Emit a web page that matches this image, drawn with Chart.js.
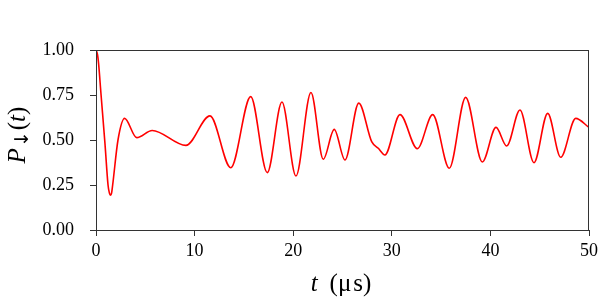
<!DOCTYPE html>
<html>
<head>
<meta charset="utf-8">
<script src="https://cdn.jsdelivr.net/npm/chart.js@4.4.1/dist/chart.umd.min.js"></script>
<style>
  html, body { margin: 0; padding: 0; background: #fff; }
  #wrap { width: 616px; height: 299px; }
</style>
</head>
<body>
<div id="wrap"><canvas id="chart"></canvas></div>
<script>
// values (time in microseconds, probability)
const times = [0, 0.15, 0.27, 0.5, 0.91, 1.22, 1.36, 1.47, 1.58, 1.69, 2.23, 2.9, 4.13, 5.7, 9.12, 11.56, 13.67,
  15.69, 17.37, 18.86, 20.28, 21.8, 23.05, 24.16, 25.25, 26.65, 27.96, 28.63, 29.3,
  30.83, 32.59, 34.15, 35.83, 37.49, 39.18, 40.57, 41.65, 43.0, 44.42, 45.81, 47.13, 48.65, 50];
const probDown = [1.0, 0.975, 0.92, 0.76, 0.48, 0.25, 0.205, 0.194, 0.205, 0.25, 0.5, 0.62, 0.513, 0.553, 0.47, 0.634, 0.346,
  0.741, 0.319, 0.711, 0.300, 0.764, 0.393, 0.559, 0.389, 0.705, 0.491, 0.454, 0.417,
  0.641, 0.452, 0.641, 0.343, 0.737, 0.378, 0.570, 0.467, 0.667, 0.374, 0.648, 0.404, 0.620, 0.570];
const xTicks = [0, 10, 20, 30, 40, 50];
const yTicks = [0, 0.25, 0.5, 0.75, 1.0];

const serif = '"Liberation Serif", "Times New Roman", serif';
const axisColor = '#333';

// draw a row of text pieces centred on x
function drawRuns(ctx, runs, x, y) {
  let total = 0;
  runs.forEach(r => { ctx.font = r.font; total += ctx.measureText(r.text).width + (r.gap || 0); });
  let cx = x - total / 2;
  runs.forEach(r => {
    ctx.font = r.font;
    ctx.fillText(r.text, cx, y + (r.dy || 0));
    cx += ctx.measureText(r.text).width + (r.gap || 0);
  });
}

const framePlugin = {
  id: 'frame',
  afterDraw(chart) {
    const { ctx, chartArea: a } = chart;
    ctx.save();
    ctx.strokeStyle = axisColor;
    ctx.lineWidth = 1;
    ctx.strokeRect(Math.round(a.left) + 0.5, Math.round(a.top) + 0.5,
      Math.round(a.right - a.left) - 1, Math.round(a.bottom - a.top));
    ctx.fillStyle = '#000';
    ctx.textBaseline = 'alphabetic';

    // x title:  t  (μs)
    drawRuns(ctx, [
      { text: 't', font: 'italic 25px ' + serif, gap: 12 },
      { text: '(', font: '25px ' + serif },
      { text: 'μ', font: '25px ' + serif, gap: 2 },
      { text: 's)', font: '25px ' + serif }
    ], 341, 291);

    // y title:  P↓(t)
    ctx.translate(25, 135);
    ctx.rotate(-Math.PI / 2);
    drawRuns(ctx, [
      { text: 'P', font: 'italic 25px ' + serif, gap: 1 },
      { text: '↓', font: '19px "DejaVu Sans", sans-serif', dy: 3, gap: 1 },
      { text: '(', font: '25px ' + serif },
      { text: 't', font: 'italic 25px ' + serif },
      { text: ')', font: '25px ' + serif }
    ], 0, 0);
    ctx.restore();
  }
};

new Chart(document.getElementById('chart'), {
  type: 'line',
  data: {
    datasets: [{
      data: times.map((t, i) => ({ x: t, y: probDown[i] })),
      borderColor: '#ff0000',
      borderWidth: 1.6,
      pointRadius: 0,
      cubicInterpolationMode: 'monotone',
      fill: false
    }]
  },
  options: {
    responsive: true,
    maintainAspectRatio: false,
    animation: false,
    layout: { padding: { left: 0, right: 27, top: 50, bottom: 0 } },
    plugins: { legend: { display: false }, tooltip: { enabled: false } },
    scales: {
      x: {
        type: 'linear',
        min: 0, max: 50,
        afterBuildTicks: s => { s.ticks = xTicks.map(v => ({ value: v })); },
        afterFit: s => { s.height = 69; },
        grid: { drawOnChartArea: false, drawTicks: true, tickLength: 6, color: axisColor },
        border: { display: true, color: axisColor },
        ticks: { color: '#000', font: { family: serif, size: 18 }, padding: 4, maxRotation: 0 }
      },
      y: {
        min: 0, max: 1,
        afterBuildTicks: s => { s.ticks = yTicks.map(v => ({ value: v })); },
        afterFit: s => { s.width = 96; },
        grid: { drawOnChartArea: false, drawTicks: true, tickLength: 6, color: axisColor },
        border: { display: true, color: axisColor },
        ticks: { color: '#000', font: { family: serif, size: 18 }, padding: 16,
          callback: v => v.toFixed(2) }
      }
    }
  },
  plugins: [framePlugin]
});
</script>
</body>
</html>
